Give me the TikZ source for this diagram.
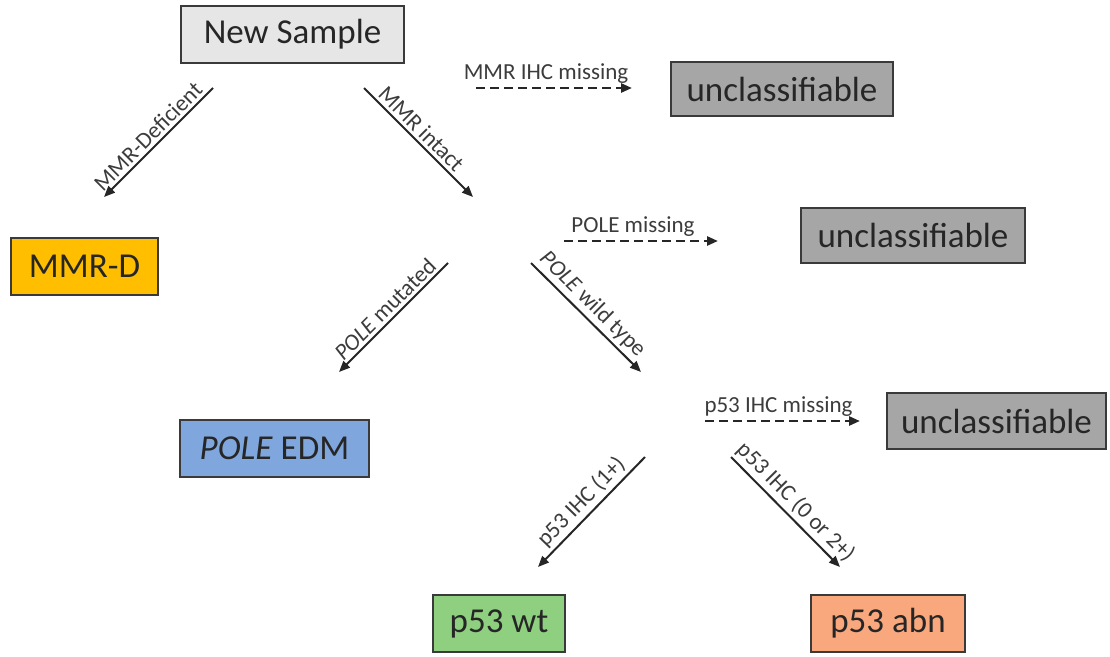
\documentclass[tikz,border=0pt]{standalone}
\usepackage{fontspec}
\setmainfont{Carlito}
\usetikzlibrary{arrows.meta}
\definecolor{boxline}{HTML}{3A3A3A}
\definecolor{boxtext}{HTML}{262626}
\definecolor{lbltext}{HTML}{3C3C3C}
\definecolor{samplefill}{HTML}{E6E6E6}
\definecolor{mmrdfill}{HTML}{FFBF00}
\definecolor{unclfill}{HTML}{A6A6A6}
\definecolor{polefill}{HTML}{7FA7DD}
\definecolor{wtfill}{HTML}{8FCF80}
\definecolor{abnfill}{HTML}{F9A87E}

\begin{document}
\begin{tikzpicture}[x=1pt,y=-1pt,
	box/.style={draw=boxline, line width=2pt, text=boxtext, inner sep=0pt,
		font=\fontsize{35}{40}\selectfont},
	lbl/.style={text=lbltext, inner sep=3pt, font=\fontsize{23}{27}\selectfont},
	arr/.style={line width=2pt, draw=black!85, -{Triangle[length=11pt,width=9pt]}},
	dasharr/.style={arr, line width=2.6pt, dash pattern=on 9pt off 5pt}]
	\useasboundingbox (0,0) rectangle (1110,656);
	% boxes
	\node[box, fill=samplefill, minimum width=223, minimum height=57] (sample) at (292.5,34.5) {New Sample};
	\node[box, fill=mmrdfill, minimum width=147, minimum height=57] (mmrd) at (84.5,266.5) {MMR-D};
	\node[box, fill=unclfill, minimum width=222, minimum height=54] (uncla) at (782,89) {unclassifiable};
	\node[box, fill=unclfill, minimum width=224, minimum height=55] (unclb) at (913,235.5) {unclassifiable};
	\node[box, fill=polefill, minimum width=189, minimum height=57] (edm) at (274.5,448.5) {\emph{POLE} EDM};
	\node[box, fill=unclfill, minimum width=219, minimum height=56] (unclc) at (996.5,421) {unclassifiable};
	\node[box, fill=wtfill, minimum width=132, minimum height=57] (wt) at (499,623.5) {p53 wt};
	\node[box, fill=abnfill, minimum width=154, minimum height=57] (abn) at (888,623.5) {p53 abn};
	% arrow ends
	\coordinate (mmrds) at (213,88);   \coordinate (mmrde) at (104,197);
	\coordinate (intacts) at (364,88); \coordinate (intacte) at (473,197);
	\coordinate (muts) at (448,263);   \coordinate (mute) at (339,372);
	\coordinate (wilds) at (531,263);  \coordinate (wilde) at (641,372);
	\coordinate (ones) at (645,457);   \coordinate (onee) at (538,567);
	\coordinate (twos) at (731,457);   \coordinate (twoe) at (840,567);
	\coordinate (missas) at (476,88);  \coordinate (missae) at (632,88);
	\coordinate (missbs) at (564,241); \coordinate (missbe) at (718,241);
	\coordinate (misscs) at (705,421); \coordinate (missce) at (860,421);
	% solid arrows
	\draw[arr] (mmrds) -- node[lbl, above, sloped, pos=0.52] {MMR-Deficient} (mmrde);
	\draw[arr] (intacts) -- node[lbl, above, sloped, pos=0.45] {MMR intact} (intacte);
	\draw[arr] (muts) -- node[lbl, above, sloped] {\emph{POLE} mutated} (mute);
	\draw[arr] (wilds) -- node[lbl, above, sloped, pos=0.47] {\emph{POLE} wild type} (wilde);
	\draw[arr] (ones) -- node[lbl, above, sloped] {p53 IHC (1+)} (onee);
	\draw[arr] (twos) -- node[lbl, above, sloped] {p53 IHC (0 or 2+)} (twoe);
	% dashed arrows
	\draw[dasharr] (missas) -- node[lbl, above, xshift=-8pt] {MMR IHC missing} (missae);
	\draw[dasharr] (missbs) -- node[lbl, above, xshift=-8pt] {POLE missing} (missbe);
	\draw[dasharr] (misscs) -- node[lbl, above, xshift=-4pt] {p53 IHC missing} (missce);
\end{tikzpicture}
\end{document}
